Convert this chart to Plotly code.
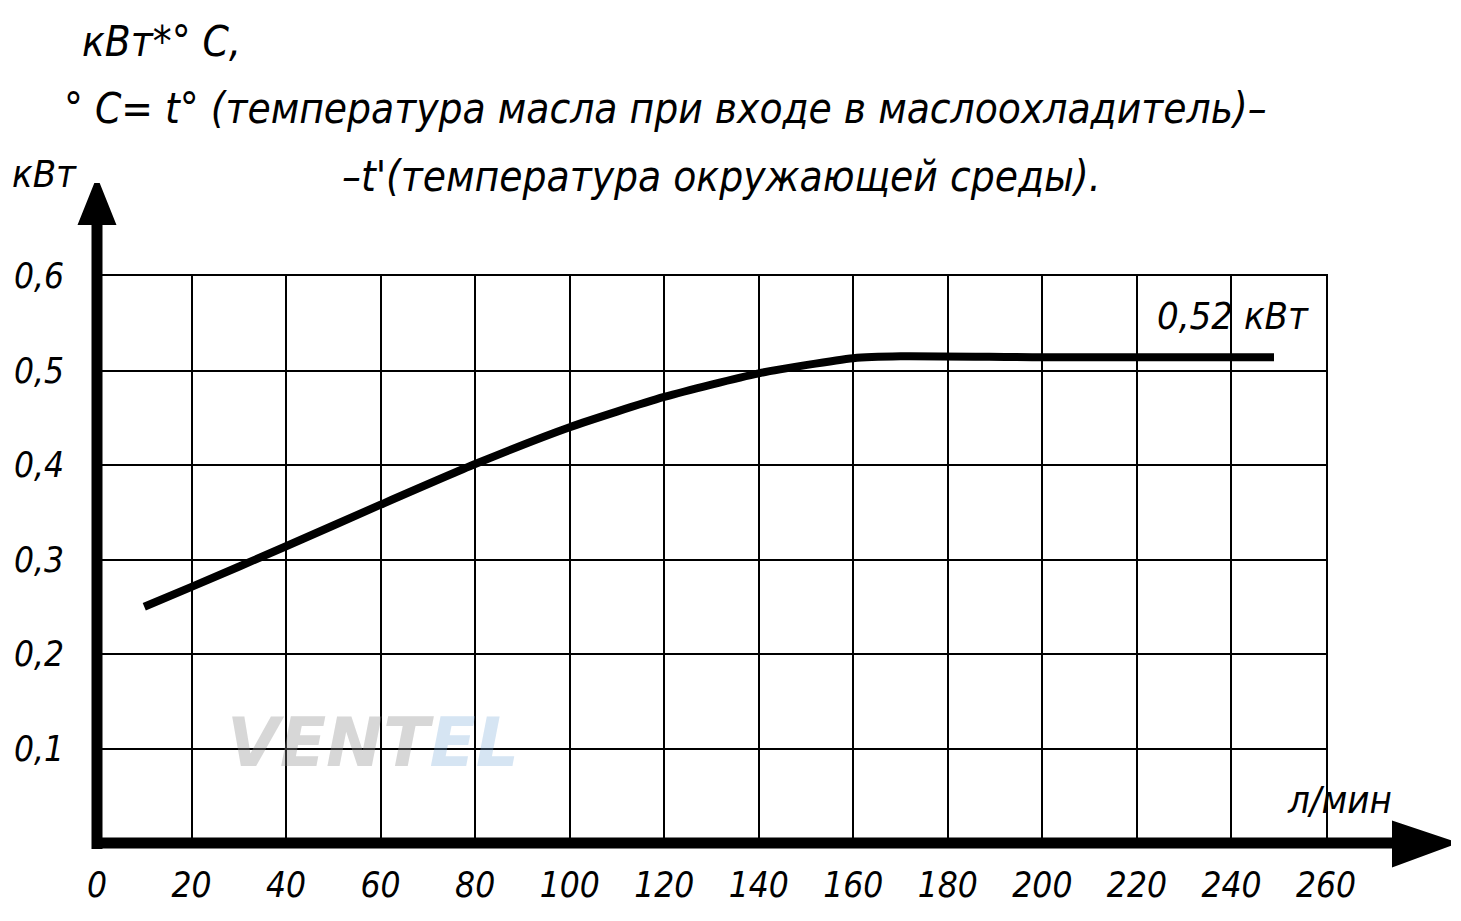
import plotly.graph_objects as go

# ---- data ----
flow_lpm = [10, 20, 40, 60, 80, 100, 120, 140, 160, 170, 200, 249]
power_kw = [0.25, 0.271, 0.314, 0.358, 0.401, 0.44, 0.472, 0.497, 0.513, 0.515, 0.514, 0.514]
x_ticks = [0, 20, 40, 60, 80, 100, 120, 140, 160, 180, 200, 220, 240, 260]
x_tick_text = [str(v) for v in x_ticks]
y_ticks = [0.1, 0.2, 0.3, 0.4, 0.5, 0.6]
y_tick_text = ["0,1", "0,2", "0,3", "0,4", "0,5", "0,6"]

W, H = 1461, 921
L, R, T, B = 97, 1326, 276, 843  # plot area in pixels

FONT = "DejaVu Sans Condensed, Liberation Sans Narrow, DejaVu Sans, sans-serif"


def px(x):
    return (x - L) / (R - L)


def py(y):
    return (B - y) / (B - T)


fig = go.Figure()
fig.add_trace(go.Scatter(
    x=flow_lpm, y=power_kw, mode="lines",
    line=dict(color="black", width=8, shape="spline", smoothing=0.6),
    showlegend=False, hoverinfo="skip",
))

axis_font = dict(family=FONT, size=35, color="black", style="italic")

fig.update_xaxes(
    range=[0, 260], tickvals=x_ticks, ticktext=x_tick_text,
    showgrid=True, gridcolor="black", gridwidth=2, automargin=False,
    zeroline=False, showline=True, linecolor="black", linewidth=2, mirror=True,
    ticks="", tickfont=axis_font, ticklabelstandoff=10, fixedrange=True,
)
fig.update_yaxes(
    range=[0, 0.6], tickvals=y_ticks, ticktext=y_tick_text,
    showgrid=True, gridcolor="black", gridwidth=2, automargin=False,
    zeroline=False, showline=True, linecolor="black", linewidth=2, mirror=True,
    ticks="", tickfont=axis_font, ticklabelstandoff=24, fixedrange=True,
)

shapes = []
# thick y axis with arrow
shapes.append(dict(type="line", xref="paper", yref="paper",
                   x0=px(97), y0=py(849), x1=px(97), y1=py(218),
                   line=dict(color="black", width=11)))
shapes.append(dict(type="path", xref="paper", yref="paper",
                   path=f"M {px(79)} {py(224)} L {px(115)} {py(224)} L {px(99)} {py(184)} L {px(95)} {py(184)} Z",
                   fillcolor="black", line=dict(color="black", width=2)))
# thick x axis with arrow
shapes.append(dict(type="line", xref="paper", yref="paper",
                   x0=px(92), y0=py(843), x1=px(1398), y1=py(843),
                   line=dict(color="black", width=11)))
shapes.append(dict(type="path", xref="paper", yref="paper",
                   path=f"M {px(1393)} {py(822)} L {px(1393)} {py(866)} L {px(1450)} {py(845)} L {px(1450)} {py(841)} Z",
                   fillcolor="black", line=dict(color="black", width=2)))

tfont = dict(family=FONT, size=42, color="black", style="italic")
sfont = dict(family=FONT, size=38, color="black", style="italic")
annotations = [
    dict(text="кВт*° С,", x=px(80), y=py(42), xanchor="left", yanchor="middle", font=tfont),
    dict(text="° С= t° (температура масла при входе в маслоохладитель)–", x=px(62), y=py(108),
         xanchor="left", yanchor="middle", font=tfont),
    dict(text="–t'(температура окружающей среды).", x=px(340), y=py(176),
         xanchor="left", yanchor="middle", font=tfont),
    dict(text="кВт", x=px(10), y=py(174), xanchor="left", yanchor="middle", font=sfont),
    dict(text="л/мин", x=px(1285), y=py(800), xanchor="left", yanchor="middle", font=sfont),
    dict(text="0,52 кВт", x=px(1155), y=py(316), xanchor="left", yanchor="middle", font=sfont),
    # faint watermark
    dict(text="<b><span style='color:rgba(140,140,140,0.35)'>VENT</span>"
              "<span style='color:rgba(120,170,215,0.3)'>EL</span></b>",
         x=px(225), y=py(742), xanchor="left", yanchor="middle",
         font=dict(family="DejaVu Sans", size=68, style="italic")),
]
for a in annotations:
    a.update(xref="paper", yref="paper", showarrow=False)

fig.update_layout(
    width=W, height=H,
    margin=dict(l=L, r=W - R, t=T, b=H - B, pad=0),
    paper_bgcolor="white", plot_bgcolor="white",
    shapes=shapes, annotations=annotations,
    showlegend=False,
)

fig.write_html("out.html", post_script="document.body.style.margin='0px';",
               config={"displayModeBar": False})
